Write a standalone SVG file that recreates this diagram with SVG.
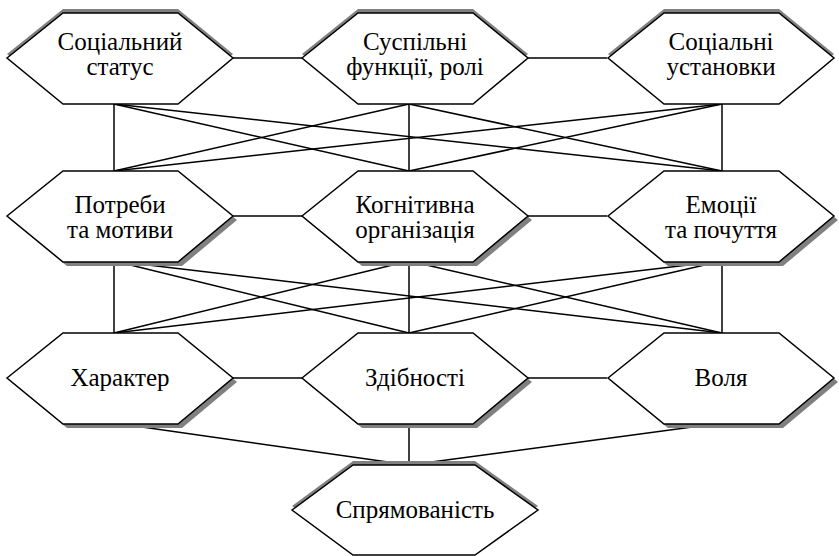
<svg xmlns="http://www.w3.org/2000/svg" width="839" height="556" viewBox="0 0 839 556">
<defs>
<style>
.hex{fill:#fff;stroke:#000;stroke-width:1.5;stroke-linejoin:miter}
.sh{fill:#808080;stroke:none}
.t{font-size:25px;fill:#000;text-anchor:middle}
.c line{stroke:#000;stroke-width:1.5}
</style>
<polygon id="hx" points="0,45 56,0 171,0 226,45 171,91 56,91"/>
<polygon id="hxb" points="0,45 61,0 183,0 246,45 183,90 61,90"/>
</defs>
<rect width="839" height="556" fill="#fff"/>
<g class="c" id="connectors">
<line x1="233" y1="58" x2="302" y2="58"/>
<line x1="528" y1="58" x2="607" y2="58"/>
<line x1="233" y1="216" x2="302" y2="216"/>
<line x1="528" y1="216" x2="607" y2="216"/>
<line x1="233" y1="378" x2="302" y2="378"/>
<line x1="528" y1="378" x2="607" y2="378"/>
<line x1="114" y1="104" x2="114" y2="171"/>
<line x1="114" y1="104" x2="409" y2="171"/>
<line x1="114" y1="104" x2="722" y2="171"/>
<line x1="409" y1="104" x2="114" y2="171"/>
<line x1="409" y1="104" x2="409" y2="171"/>
<line x1="409" y1="104" x2="722" y2="171"/>
<line x1="722" y1="104" x2="114" y2="171"/>
<line x1="722" y1="104" x2="409" y2="171"/>
<line x1="722" y1="104" x2="722" y2="171"/>
<line x1="114" y1="261" x2="114" y2="333"/>
<line x1="114" y1="261" x2="409" y2="333"/>
<line x1="114" y1="261" x2="722" y2="333"/>
<line x1="409" y1="261" x2="114" y2="333"/>
<line x1="409" y1="261" x2="409" y2="333"/>
<line x1="409" y1="261" x2="722" y2="333"/>
<line x1="722" y1="261" x2="114" y2="333"/>
<line x1="722" y1="261" x2="409" y2="333"/>
<line x1="722" y1="261" x2="722" y2="333"/>
<line x1="114" y1="423" x2="409" y2="465"/>
<line x1="409" y1="423" x2="409" y2="465"/>
<line x1="722" y1="423" x2="409" y2="465"/>
</g>
<g id="nodes" font-family="Liberation Serif, serif">
<g id="n1" transform="translate(7,13)">
<use href="#hx" class="sh" transform="translate(0,-4)"/>
<use href="#hx" class="hex"/>
<text class="t" x="113" y="37">Соціальний</text>
<text class="t" x="113" y="62">статус</text>
</g>
<g id="n2" transform="translate(302,13)">
<use href="#hx" class="sh" transform="translate(0,-4)"/>
<use href="#hx" class="hex"/>
<text class="t" x="113" y="37">Суспільні</text>
<text class="t" x="113" y="62">функції, ролі</text>
</g>
<g id="n3" transform="translate(608,13)">
<use href="#hx" class="sh" transform="translate(0,-4)"/>
<use href="#hx" class="hex"/>
<text class="t" x="113" y="37">Соціальні</text>
<text class="t" x="113" y="62">установки</text>
</g>
<g id="n4" transform="translate(7,171)">
<use href="#hx" class="sh" transform="translate(4,4)"/>
<use href="#hx" class="hex"/>
<text class="t" x="113" y="42">Потреби</text>
<text class="t" x="113" y="67">та мотиви</text>
</g>
<g id="n5" transform="translate(302,171)">
<use href="#hx" class="sh" transform="translate(4,4)"/>
<use href="#hx" class="hex"/>
<text class="t" x="113" y="42">Когнітивна</text>
<text class="t" x="113" y="67">організація</text>
</g>
<g id="n6" transform="translate(608,171)">
<use href="#hx" class="sh" transform="translate(4,4)"/>
<use href="#hx" class="hex"/>
<text class="t" x="113" y="42">Емоції</text>
<text class="t" x="113" y="67">та почуття</text>
</g>
<g id="n7" transform="translate(7,333)">
<use href="#hx" class="sh" transform="translate(4,4)"/>
<use href="#hx" class="hex"/>
<text class="t" x="113" y="53">Характер</text>
</g>
<g id="n8" transform="translate(302,333)">
<use href="#hx" class="sh" transform="translate(4,4)"/>
<use href="#hx" class="hex"/>
<text class="t" x="113" y="53">Здібності</text>
</g>
<g id="n9" transform="translate(608,333)">
<use href="#hx" class="sh" transform="translate(4,4)"/>
<use href="#hx" class="hex"/>
<text class="t" x="113" y="53">Воля</text>
</g>
<g id="n10" transform="translate(292,465)">
<use href="#hxb" class="sh" transform="translate(0,-4)"/>
<use href="#hxb" class="hex"/>
<text class="t" x="123" y="53">Спрямованість</text>
</g>
</g>
</svg>
